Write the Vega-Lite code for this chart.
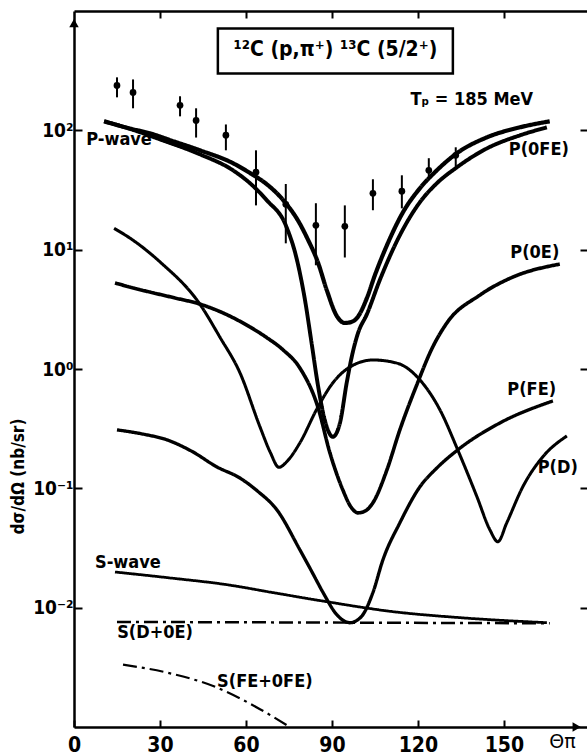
{
  "$schema": "https://vega.github.io/schema/vega-lite/v6.json",
  "width": 513,
  "height": 716,
  "autosize": {"type": "none"},
  "padding": {"left": 74, "top": 11, "right": 0, "bottom": 28},
  "background": "white",
  "config": {
    "view": {"stroke": null},
    "axis": {"grid": false, "domainColor": "black", "tickColor": "black", "labelColor": "black", "titleColor": "black"}
  },
  "datasets": {
    "curves": [
      {"s":"P-wave","t":10.5,"v":119},{"s":"P-wave","t":20,"v":103},{"s":"P-wave","t":26.5,"v":94.4},{"s":"P-wave","t":35,"v":80.5},{"s":"P-wave","t":43.9,"v":68.1},{"s":"P-wave","t":55.5,"v":53},{"s":"P-wave","t":62,"v":43},{"s":"P-wave","t":67.3,"v":35.3},{"s":"P-wave","t":73,"v":26},{"s":"P-wave","t":78.8,"v":16.5},{"s":"P-wave","t":81.3,"v":12.6},{"s":"P-wave","t":85.1,"v":7.85},{"s":"P-wave","t":88.2,"v":4.58},{"s":"P-wave","t":91.7,"v":2.78},{"s":"P-wave","t":94.5,"v":2.43},{"s":"P-wave","t":96.6,"v":2.47},{"s":"P-wave","t":98.7,"v":2.67},{"s":"P-wave","t":102.2,"v":3.93},{"s":"P-wave","t":105,"v":6.12},{"s":"P-wave","t":109.2,"v":10.9},{"s":"P-wave","t":114.8,"v":20.6},{"s":"P-wave","t":120.7,"v":32.7},{"s":"P-wave","t":126.6,"v":46.2},{"s":"P-wave","t":133.6,"v":64.3},{"s":"P-wave","t":144.1,"v":87.4},{"s":"P-wave","t":155.6,"v":106},{"s":"P-wave","t":166,"v":119},
      {"s":"P(0FE)","t":10.5,"v":119},{"s":"P(0FE)","t":20,"v":102},{"s":"P(0FE)","t":30,"v":84},{"s":"P(0FE)","t":43.9,"v":63},{"s":"P(0FE)","t":55.5,"v":46.2},{"s":"P(0FE)","t":62,"v":35},{"s":"P(0FE)","t":67.3,"v":25.9},{"s":"P(0FE)","t":73.9,"v":16},{"s":"P(0FE)","t":77.8,"v":8.2},{"s":"P(0FE)","t":80.6,"v":3.78},{"s":"P(0FE)","t":83,"v":1.59},{"s":"P(0FE)","t":85.1,"v":0.735},{"s":"P(0FE)","t":87.5,"v":0.374},{"s":"P(0FE)","t":90.3,"v":0.27},{"s":"P(0FE)","t":92.8,"v":0.353},{"s":"P(0FE)","t":95.2,"v":0.778},{"s":"P(0FE)","t":97.3,"v":1.39},{"s":"P(0FE)","t":99.1,"v":2.0},{"s":"P(0FE)","t":102.2,"v":2.88},{"s":"P(0FE)","t":106.7,"v":5.56},{"s":"P(0FE)","t":113.7,"v":13.2},{"s":"P(0FE)","t":120.7,"v":25},{"s":"P(0FE)","t":126.6,"v":36},{"s":"P(0FE)","t":133.6,"v":49},{"s":"P(0FE)","t":144.1,"v":70.6},{"s":"P(0FE)","t":155.6,"v":90.8},{"s":"P(0FE)","t":165,"v":106},
      {"s":"P(0E)","t":14.3,"v":5.25},{"s":"P(0E)","t":25,"v":4.5},{"s":"P(0E)","t":35,"v":3.95},{"s":"P(0E)","t":43.9,"v":3.5},{"s":"P(0E)","t":52,"v":2.95},{"s":"P(0E)","t":61.4,"v":2.25},{"s":"P(0E)","t":67,"v":1.85},{"s":"P(0E)","t":72.9,"v":1.45},{"s":"P(0E)","t":78.8,"v":1.02},{"s":"P(0E)","t":85.1,"v":0.48},{"s":"P(0E)","t":89.3,"v":0.198},{"s":"P(0E)","t":93.8,"v":0.097},{"s":"P(0E)","t":96.6,"v":0.07},{"s":"P(0E)","t":99.1,"v":0.0623},{"s":"P(0E)","t":101.8,"v":0.065},{"s":"P(0E)","t":104.3,"v":0.0757},{"s":"P(0E)","t":109.2,"v":0.143},{"s":"P(0E)","t":113.7,"v":0.309},{"s":"P(0E)","t":119.6,"v":0.735},{"s":"P(0E)","t":125,"v":1.5},{"s":"P(0E)","t":130.1,"v":2.43},{"s":"P(0E)","t":141.6,"v":4.16},{"s":"P(0E)","t":153.1,"v":5.89},{"s":"P(0E)","t":169.5,"v":7.57},
      {"s":"P(D)","t":14,"v":15.1},{"s":"P(D)","t":20.6,"v":12},{"s":"P(D)","t":30,"v":7.9},{"s":"P(D)","t":43.9,"v":3.5},{"s":"P(D)","t":50.9,"v":1.85},{"s":"P(D)","t":57.9,"v":0.93},{"s":"P(D)","t":64.9,"v":0.327},{"s":"P(D)","t":68.5,"v":0.2},{"s":"P(D)","t":71.5,"v":0.15},{"s":"P(D)","t":74.5,"v":0.17},{"s":"P(D)","t":78.8,"v":0.24},{"s":"P(D)","t":85.1,"v":0.48},{"s":"P(D)","t":90.3,"v":0.764},{"s":"P(D)","t":96.3,"v":1.04},{"s":"P(D)","t":104.3,"v":1.19},{"s":"P(D)","t":112.7,"v":1.12},{"s":"P(D)","t":120.7,"v":0.81},{"s":"P(D)","t":127.7,"v":0.454},{"s":"P(D)","t":133.9,"v":0.21},{"s":"P(D)","t":140.6,"v":0.085},{"s":"P(D)","t":145.1,"v":0.045},{"s":"P(D)","t":147.9,"v":0.0357},{"s":"P(D)","t":151,"v":0.0514},{"s":"P(D)","t":156.6,"v":0.103},{"s":"P(D)","t":163.6,"v":0.184},{"s":"P(D)","t":172,"v":0.275},
      {"s":"P(FE)","t":15,"v":0.309},{"s":"P(FE)","t":24,"v":0.285},{"s":"P(FE)","t":32.4,"v":0.255},{"s":"P(FE)","t":41,"v":0.205},{"s":"P(FE)","t":49.9,"v":0.151},{"s":"P(FE)","t":57.9,"v":0.122},{"s":"P(FE)","t":64,"v":0.095},{"s":"P(FE)","t":70.8,"v":0.066},{"s":"P(FE)","t":78.8,"v":0.0306},{"s":"P(FE)","t":83,"v":0.02},{"s":"P(FE)","t":86.9,"v":0.0134},{"s":"P(FE)","t":91.7,"v":0.00873},{"s":"P(FE)","t":94,"v":0.0078},{"s":"P(FE)","t":96.3,"v":0.00748},{"s":"P(FE)","t":98.6,"v":0.0078},{"s":"P(FE)","t":100.8,"v":0.00873},{"s":"P(FE)","t":104.3,"v":0.0134},{"s":"P(FE)","t":107.8,"v":0.0252},{"s":"P(FE)","t":113.7,"v":0.0514},{"s":"P(FE)","t":120.7,"v":0.103},{"s":"P(FE)","t":126.6,"v":0.148},{"s":"P(FE)","t":133.9,"v":0.21},{"s":"P(FE)","t":148.6,"v":0.353},{"s":"P(FE)","t":167.1,"v":0.54},
      {"s":"S-wave","t":14.3,"v":0.0199},{"s":"S-wave","t":33,"v":0.0178},{"s":"S-wave","t":53.4,"v":0.01557},{"s":"S-wave","t":70,"v":0.0133},{"s":"S-wave","t":88.2,"v":0.01122},{"s":"S-wave","t":111.3,"v":0.00926},{"s":"S-wave","t":134.6,"v":0.00825},{"s":"S-wave","t":165,"v":0.00748},
      {"s":"S(D+0E)","t":15,"v":0.0076},{"s":"S(D+0E)","t":90,"v":0.0075},{"s":"S(D+0E)","t":166,"v":0.0074},
      {"s":"S(FE+0FE)","t":17.1,"v":0.00333},{"s":"S(FE+0FE)","t":32.4,"v":0.00286},{"s":"S(FE+0FE)","t":49.9,"v":0.00214},{"s":"S(FE+0FE)","t":64.9,"v":0.00141},{"s":"S(FE+0FE)","t":75.3,"v":0.001}
    ],
    "points": [
      {"t":15.0,"v":238,"lo":189,"hi":278},{"t":20.6,"v":208,"lo":153,"hi":267},{"t":37.0,"v":162,"lo":131,"hi":193},{"t":42.6,"v":121,"lo":87,"hi":153},{"t":53.0,"v":91,"lo":68,"hi":112},{"t":63.5,"v":44.6,"lo":23.5,"hi":68},{"t":73.9,"v":24,"lo":11.3,"hi":35.5},{"t":84.4,"v":16,"lo":7.4,"hi":24.5},{"t":94.5,"v":15.7,"lo":8.6,"hi":23.5},{"t":104.3,"v":29.7,"lo":21.4,"hi":38.9},{"t":114.4,"v":30.9,"lo":22.2,"hi":42},{"t":123.8,"v":46.2,"lo":38.2,"hi":58.4},{"t":133.2,"v":61.8,"lo":49,"hi":72.1}
    ],
    "labels": [
      {"text":"P-wave","t":15.7,"v":82.4},
      {"text":"P(0FE)","t":162.2,"v":68.1},
      {"text":"P(0E)","t":160.8,"v":9.36},
      {"text":"P(FE)","t":159.7,"v":0.667},
      {"text":"P(D)","t":168.8,"v":0.149},
      {"text":"S-wave","t":18.8,"v":0.0238},
      {"text":"S(D+0E)","t":28.3,"v":0.00618},
      {"text":"S(FE+0FE)","t":66.6,"v":0.0024},
      {"text":"Tₚ = 185 MeV","t":138.8,"v":178}
    ],
    "titlebox": [{"t1":50.2,"t2":132.2,"v1":300,"v2":714,"tc":91.2,"vc":467,"text":"¹²C (p,π⁺) ¹³C (5/2⁺)"}],
    "arrowY": [{"t":0,"v":793}],
    "arrowX": [{"t":175.4,"v":0.001}]
  },
  "resolve": {"axis": {"x": "independent", "y": "independent"}},
  "layer": [
    {
      "data": {"name": "curves"},
      "mark": {"type": "line", "interpolate": "monotone", "color": "black", "clip": false},
      "encoding": {
        "x": {"field": "t", "type": "quantitative",
              "scale": {"type": "linear", "domain": [0, 179], "nice": false, "zero": false},
              "axis": {"orient": "bottom", "values": [0,30,60,90,120,150], "title": "Θπ",
                       "titleX": 488, "titleY": 14, "titleAlign": "center", "titleBaseline": "middle", "titleAngle": 0,
                       "titleFont": "DejaVu Sans", "titleFontSize": 19, "titleFontWeight": "normal",
                       "domainWidth": 2.5, "tickWidth": 2, "tickSize": -7,
                       "labelFont": "'DejaVu Sans Condensed', sans-serif", "labelFontSize": 21, "labelFontWeight": "bold",
                       "labelPadding": 14, "labelFlush": false, "labelOverlap": false, "labelBaseline": "top"}},
        "y": {"field": "v", "type": "quantitative",
              "scale": {"type": "log", "domain": [0.001, 1000], "nice": false},
              "axis": {"orient": "left", "values": [0.01,0.1,1,10,100],
                       "labelExpr": "datum.value > 50 ? '10²' : datum.value > 5 ? '10¹' : datum.value > 0.5 ? '10⁰' : datum.value > 0.05 ? '10⁻¹' : '10⁻²'",
                       "title": "dσ/dΩ (nb/sr)", "titleX": -56, "titleY": 465, "titleAngle": 270, "titleAlign": "center", "titleBaseline": "middle",
                       "titleFont": "'DejaVu Sans Condensed', sans-serif", "titleFontSize": 17, "titleFontWeight": "bold",
                       "domainWidth": 2.5, "tickWidth": 2, "tickSize": -8,
                       "labelFont": "'DejaVu Sans Condensed', sans-serif", "labelFontSize": 19, "labelFontWeight": "bold",
                       "labelPadding": 9, "labelOverlap": false, "labelBaseline": "middle"}},
        "detail": {"field": "s", "type": "nominal"},
        "strokeWidth": {"field": "s", "type": "nominal", "legend": null,
                        "scale": {"domain": ["P-wave","P(0FE)","P(0E)","P(FE)","P(D)","S-wave","S(D+0E)","S(FE+0FE)"], "range": [4.2,2.2,2.2,2.2,2.2,4.2,2.5,2.5]}},
        "strokeDash": {"field": "s", "type": "nominal", "legend": null,
                       "scale": {"domain": ["P-wave","P(0FE)","P(0E)","P(FE)","P(D)","S-wave","S(D+0E)","S(FE+0FE)"], "range": [[1,0],[1,0],[1,0],[1,0],[1,0],[1,0],[14,5,3,5],[14,5,3,5]]}}
      }
    },
    {
      "data": {"name": "points"},
      "mark": {"type": "rule", "color": "black", "strokeWidth": 2},
      "encoding": {
        "x": {"field": "t", "type": "quantitative", "axis": null},
        "y": {"field": "lo", "type": "quantitative", "axis": null},
        "y2": {"field": "hi"}
      }
    },
    {
      "data": {"name": "points"},
      "mark": {"type": "point", "filled": true, "shape": "circle", "size": 45, "color": "black", "opacity": 1},
      "encoding": {
        "x": {"field": "t", "type": "quantitative",
              "axis": {"orient": "top", "values": [30,60,90,120,150], "labels": false, "title": null, "domainWidth": 2.5, "tickWidth": 2, "tickSize": -7}},
        "y": {"field": "v", "type": "quantitative",
              "axis": {"orient": "right", "values": [0.01,0.1,1,10,100], "labels": false, "title": null, "domain": false, "tickWidth": 2, "tickSize": -7}}
      }
    },
    {
      "data": {"name": "titlebox"},
      "mark": {"type": "rect", "fill": "white", "fillOpacity": 0, "stroke": "black", "strokeWidth": 2.5},
      "encoding": {
        "x": {"field": "t1", "type": "quantitative", "axis": null},
        "x2": {"field": "t2"},
        "y": {"field": "v1", "type": "quantitative", "axis": null},
        "y2": {"field": "v2"}
      }
    },
    {
      "data": {"name": "titlebox"},
      "mark": {"type": "text", "font": "'DejaVu Sans Condensed', sans-serif", "fontSize": 21, "fontWeight": "bold", "color": "black", "align": "center", "baseline": "middle"},
      "encoding": {
        "x": {"field": "tc", "type": "quantitative", "axis": null},
        "y": {"field": "vc", "type": "quantitative", "axis": null},
        "text": {"field": "text"}
      }
    },
    {
      "data": {"name": "labels"},
      "mark": {"type": "text", "font": "'DejaVu Sans Condensed', sans-serif", "fontSize": 18, "fontWeight": "bold", "color": "black", "align": "center", "baseline": "middle"},
      "encoding": {
        "x": {"field": "t", "type": "quantitative", "axis": null},
        "y": {"field": "v", "type": "quantitative", "axis": null},
        "text": {"field": "text"}
      }
    },
    {
      "data": {"name": "arrowY"},
      "mark": {"type": "point", "shape": "triangle-up", "filled": true, "size": 90, "color": "black", "opacity": 1},
      "encoding": {
        "x": {"field": "t", "type": "quantitative", "axis": null},
        "y": {"field": "v", "type": "quantitative", "axis": null}
      }
    },
    {
      "data": {"name": "arrowX"},
      "mark": {"type": "point", "shape": "triangle-right", "filled": true, "size": 90, "color": "black", "opacity": 1},
      "encoding": {
        "x": {"field": "t", "type": "quantitative", "axis": null},
        "y": {"field": "v", "type": "quantitative", "axis": null}
      }
    }
  ]
}
